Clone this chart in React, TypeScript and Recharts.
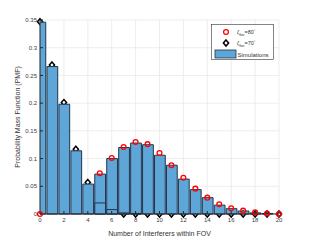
import { ComposedChart, Bar, Line, XAxis, YAxis, CartesianGrid } from "recharts";

// number of interferers (bin centres)
const bins = [0, 1, 2, 3, 4, 5, 6, 7, 8, 9, 10, 11, 12, 13, 14, 15, 16, 17, 18, 19, 20];

// simulated PMF (histograms)
const simFov80 = [0, 0, 0, 0, 0, 0.072, 0.1, 0.12, 0.128, 0.125, 0.106, 0.088, 0.063, 0.044, 0.0295, 0.016, 0.0096, 0.0054, 0.002, 0.001, 0];
const simFov70 = [0.346, 0.266, 0.198, 0.114, 0.054, 0.02, 0.008, 0.002, 0.001, 0, 0, 0, 0, 0, 0, 0, 0, 0, 0, 0, 0];

// analytical PMF (markers)
const modelFov80 = [0, null, null, null, null, 0.0734, 0.101, 0.121, 0.13, 0.126, 0.11, 0.088, 0.0655, 0.0457, 0.0295, 0.0175, 0.0103, 0.006, 0.003, 0.001, 0];
const modelFov70 = [0.347, 0.269, 0.201, 0.117, 0.057, 0.022, 0.0096, 0, 0, 0, 0, 0, 0, 0, 0, 0, 0, 0, 0, 0, 0];

const xTicks = [0, 2, 4, 6, 8, 10, 12, 14, 16, 18, 20];
const yTicks = [0, 0.05, 0.1, 0.15, 0.2, 0.25, 0.3, 0.35];

const data = bins.map((n, i) => ({
  n,
  sim80: simFov80[i],
  sim70: simFov70[i],
  th80: modelFov80[i],
  th70: modelFov70[i],
}));

const W = 309;
const H = 241;
const FONT = "'Liberation Sans', Arial, sans-serif";
const AXIS = "#262626";
const BAR_FILL = "#5fa6d8";
const BAR_EDGE = "#22354a";

const Diamond = (props: any) => {
  const { cx, cy, index } = props;
  if (cx == null || cy == null || props.value == null) return null;
  return (
    <path
      key={`d-${index}`}
      d={`M${cx},${cy - 3}L${cx + 2.6},${cy}L${cx},${cy + 3}L${cx - 2.6},${cy}Z`}
      fill="#fff"
      stroke="#000"
      strokeWidth={1.5}
    />
  );
};

const Circle = (props: any) => {
  const { cx, cy, index } = props;
  if (cx == null || cy == null || props.value == null) return null;
  return <circle key={`c-${index}`} cx={cx} cy={cy} r={2.4} fill="none" stroke="#ff0000" strokeWidth={1.3} />;
};

function LegendBox() {
  return (
    <svg width={64} height={37} style={{ position: "absolute", left: 211, top: 24 }}>
      <rect x={0.5} y={0.5} width={62} height={35} fill="#fff" stroke="#333" strokeWidth={0.6} />
      <circle cx={15} cy={8} r={2.4} fill="none" stroke="#ff0000" strokeWidth={1.3} />
      <text x={26} y={10} fontSize={5.5} fill="#333" fontFamily={FONT}>
        ζ<tspan fontSize={3.8} dy={1.5}>fov</tspan>
        <tspan dy={-1.5}>=80</tspan>
        <tspan fontSize={3.8} dy={-2}>°</tspan>
      </text>
      <path d="M15,16L17.6,19L15,22L12.4,19Z" fill="#fff" stroke="#000" strokeWidth={1.5} />
      <text x={26} y={21} fontSize={5.5} fill="#333" fontFamily={FONT}>
        ζ<tspan fontSize={3.8} dy={1.5}>fov</tspan>
        <tspan dy={-1.5}>=70</tspan>
        <tspan fontSize={3.8} dy={-2}>°</tspan>
      </text>
      <rect x={4} y={26} width={21} height={8} fill={BAR_FILL} stroke={BAR_EDGE} strokeWidth={0.8} />
      <text x={26.5} y={32.5} fontSize={6} fill="#333" fontFamily={FONT}>
        Simulations
      </text>
    </svg>
  );
}

// bottom layer: grid and the fov=70 markers, which sit behind the bars
function BackLayer() {
  return (
    <ComposedChart
      width={W}
      height={H}
      data={data}
      margin={{ top: 20, right: 30, bottom: 27, left: 40 }}
      style={{ position: "absolute", left: 0, top: 0 }}
    >
      <CartesianGrid stroke="#e8e8e8" strokeWidth={0.8} />
      <XAxis dataKey="n" type="number" domain={[0, 20]} ticks={xTicks} hide />
      <YAxis domain={[0, 0.35]} ticks={yTicks} hide />
      <Line dataKey="th70" stroke="none" dot={Diamond} activeDot={false} isAnimationActive={false} />
    </ComposedChart>
  );
}

// top layer: bars, fov=80 markers and the axes box
function FrontLayer() {
  const tickStyle = { fill: "#404040", fontSize: 6, fontFamily: FONT };
  return (
    <ComposedChart
      width={W}
      height={H}
      data={data}
      margin={{ top: 20, right: 30, bottom: 0, left: 0 }}
      barCategoryGap={0}
      barGap={0}
      style={{ position: "absolute", left: 0, top: 0 }}
    >
      <XAxis
        dataKey="n"
        type="number"
        domain={[0, 20]}
        ticks={xTicks}
        height={27}
        stroke={AXIS}
        tickSize={-3}
        tickMargin={7}
        tick={tickStyle}
        label={{
          value: "Number of Interferers within FOV",
          position: "insideBottom",
          offset: 5,
          fill: "#333",
          fontSize: 7,
          fontFamily: FONT,
        }}
      />
      <XAxis
        xAxisId="top"
        orientation="top"
        dataKey="n"
        type="number"
        domain={[0, 20]}
        ticks={xTicks}
        height={0}
        stroke={AXIS}
        tickSize={-3}
        tickFormatter={() => ""}
      />
      <XAxis xAxisId="b80" dataKey="n" type="number" domain={[0, 20]} allowDataOverflow hide />
      <XAxis xAxisId="b70" dataKey="n" type="number" domain={[0, 20]} allowDataOverflow hide />
      <YAxis
        domain={[0, 0.35]}
        ticks={yTicks}
        width={40}
        stroke={AXIS}
        tickSize={-3}
        tickMargin={6}
        tick={tickStyle}
        tickFormatter={(v: number) => String(v)}
        label={{
          value: "Probability Mass Function (PMF)",
          angle: -90,
          position: "insideLeft",
          offset: 18,
          fill: "#333",
          fontSize: 7,
          fontFamily: FONT,
          style: { textAnchor: "middle" },
        }}
      />
      <YAxis
        yAxisId="right"
        orientation="right"
        domain={[0, 0.35]}
        ticks={yTicks}
        width={0}
        stroke={AXIS}
        tickSize={-3}
        tickFormatter={() => ""}
      />
      <Bar
        xAxisId="b80"
        dataKey="sim80"
        fill={BAR_FILL}
        stroke={BAR_EDGE}
        strokeWidth={1}
        barSize={11.95}
        isAnimationActive={false}
      />
      <Bar
        xAxisId="b70"
        dataKey="sim70"
        fill={BAR_FILL}
        stroke={BAR_EDGE}
        strokeWidth={1}
        barSize={11.95}
        isAnimationActive={false}
      />
      <Line dataKey="th80" stroke="none" dot={Circle} activeDot={false} isAnimationActive={false} />
    </ComposedChart>
  );
}

export default function App() {
  return (
    <div style={{ position: "relative", width: W, height: H }}>
      <style>{`body{margin:0}`}</style>
      <BackLayer />
      <FrontLayer />
      <LegendBox />
    </div>
  );
}
